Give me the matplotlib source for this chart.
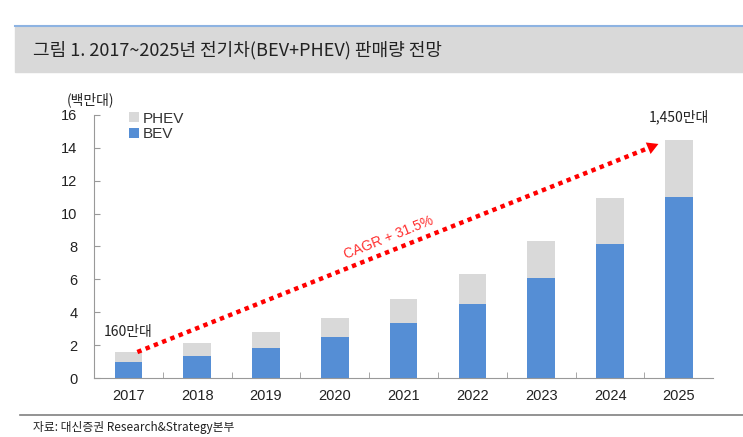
' EV sales outlook 2017-2025, stacked BEV + PHEV bars. '

import matplotlib
matplotlib.use('Agg')
import matplotlib.pyplot as plt
from matplotlib.patches import Rectangle
from matplotlib.lines import Line2D

plt.rcParams['font.family'] = ['Liberation Sans', 'Noto Sans CJK KR', 'DejaVu Sans']

YEARS = ['2017', '2018', '2019', '2020', '2021', '2022', '2023', '2024', '2025']
BEV = [1.0, 1.35, 1.85, 2.5, 3.35, 4.5, 6.08, 8.15, 11.0]
TOTAL = [1.6, 2.1, 2.8, 3.65, 4.8, 6.3, 8.33, 10.95, 14.5]
PHEV = [t - b for t, b in zip(TOTAL, BEV)]
Y_TICKS = [0, 2, 4, 6, 8, 10, 12, 14, 16]

BLUE = '#558ed5'
GREY = '#d9d9d9'
KR = ['Noto Sans CJK KR', 'DejaVu Sans']


def main():
    ' duh '
    fig = plt.figure(figsize=(7.43, 4.37), dpi=100)
    ax = fig.add_axes([0.1265, 0.135, 0.8335, 0.602])

    # header band and footer rule
    fig.patches.append(Rectangle((15 / 743, 1 - 72 / 437), 1, 45 / 437,
                                 transform=fig.transFigure, color='#d9d9d9', zorder=0))
    fig.lines.append(Line2D([15 / 743, 1], [1 - 26 / 437] * 2, transform=fig.transFigure,
                            color='#8db3e2', lw=1.5))
    fig.lines.append(Line2D([20 / 743, 1], [1 - 415 / 437] * 2, transform=fig.transFigure,
                            color='#808080', lw=1.2))
    fig.text(33 / 743, 1 - 50 / 437, '그림 1. 2017~2025년 전기차(BEV+PHEV) 판매량 전망',
             family=KR, fontsize=13, color='#222222', va='center', ha='left')
    fig.text(33 / 743, 1 - 428 / 437, '자료: 대신증권 Research&Strategy본부',
             family=KR, fontsize=8.5, color='#222222', va='center', ha='left')

    x = range(len(YEARS))
    ax.bar(x, BEV, width=0.4, color=BLUE, label='BEV', zorder=2)
    ax.bar(x, PHEV, bottom=BEV, width=0.4, color=GREY, label='PHEV', zorder=2)

    ax.set_xlim(-0.5, len(YEARS) - 0.5)
    ax.set_ylim(0, 16)
    ax.set_yticks(Y_TICKS)
    ax.set_xticks(list(x))
    ax.set_xticklabels(YEARS)
    ax.set_xticks([i + 0.5 for i in range(len(YEARS) - 1)], minor=True)
    ax.tick_params(axis='x', which='major', length=0, pad=8, labelsize=10.5, colors='#222222')
    ax.tick_params(axis='x', which='minor', length=4, direction='in', color='#999999')
    ax.tick_params(axis='y', length=4, direction='in', color='#999999', labelsize=10.5,
                   labelcolor='#222222', pad=12)
    for side in ('top', 'right'):
        ax.spines[side].set_visible(False)
    for side in ('left', 'bottom'):
        ax.spines[side].set_color('#999999')

    ax.text(-0.55, 16.9, '(백만대)', family=KR, fontsize=10, ha='center', va='center',
            color='#222222')

    handles, labels = ax.get_legend_handles_labels()
    ax.legend(handles[::-1], labels[::-1], loc='upper left', bbox_to_anchor=(0.035, 1.065),
              frameon=False, fontsize=11, handlelength=0.6, handleheight=0.6,
              handletextpad=0.25, labelspacing=0.1, labelcolor='#333333')

    # growth arrow
    start = (0.13, 1.58)
    end = (7.74, 14.3)
    ax.plot([start[0], end[0] - 0.15], [start[1], end[1] - 0.26], color='red',
            lw=3.2, linestyle=(0, (1, 1)), zorder=3)
    ax.annotate('', xy=end, xytext=(end[0] - 0.2, end[1] - 0.35),
                arrowprops=dict(arrowstyle='-|>,head_length=0.8,head_width=0.45',
                                color='red', lw=0), zorder=4)
    ax.text(3.78, 8.52, 'CAGR + 31.5%', color='#ff3030', fontsize=10,
            rotation=21.8, rotation_mode='anchor', ha='center', va='center')

    ax.text(0.0, 2.8, '160만대', family=KR, fontsize=10, ha='center', va='center',
            color='#222222')
    ax.text(8.0, 15.85, '1,450만대', family=KR, fontsize=10, ha='center', va='center',
            color='#222222')

    fig.savefig('out.png', dpi=100)


if __name__ == '__main__':
    main()
